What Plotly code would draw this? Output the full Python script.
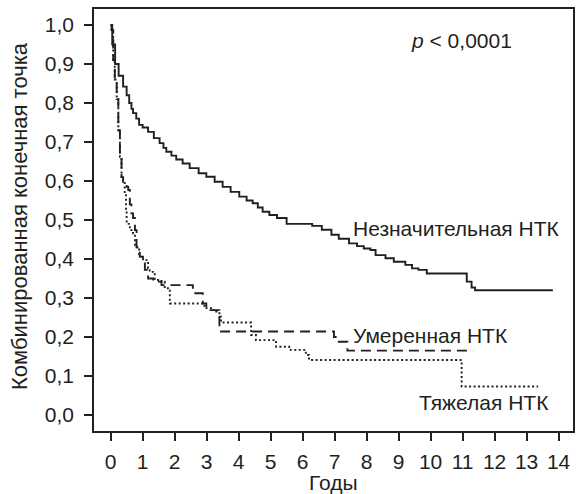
import plotly.graph_objects as go

# ---- data ----
mild_x = [0, 0.05, 0.14, 0.25, 0.39, 0.5, 0.58, 0.65, 0.70, 0.80, 0.89, 1.0, 1.17, 1.35, 1.53,
          1.65, 1.74, 1.9, 2.05, 2.25, 2.47, 2.75, 2.99, 3.25, 3.5, 3.75, 4.02, 4.25, 4.44,
          4.6, 4.75, 4.96, 5.2, 5.5, 6.3, 6.6, 6.9, 7.13, 7.45, 7.7, 7.91, 8.12, 8.28, 8.59,
          8.85, 9.21, 9.42, 9.62, 9.88, 11.13, 11.28, 11.39, 13.82]
mild_y = [1.0, 0.95, 0.90, 0.87, 0.842, 0.82, 0.80, 0.785, 0.774, 0.76, 0.744, 0.737, 0.726,
          0.71, 0.697, 0.685, 0.675, 0.665, 0.655, 0.645, 0.633, 0.62, 0.611, 0.598, 0.585,
          0.572, 0.56, 0.55, 0.543, 0.532, 0.521, 0.513, 0.505, 0.49, 0.485, 0.475, 0.462,
          0.452, 0.44, 0.433, 0.427, 0.423, 0.41, 0.402, 0.393, 0.385, 0.376, 0.372, 0.363,
          0.342, 0.327, 0.32, 0.32]

mod_x = [0, 0.03, 0.08, 0.13, 0.19, 0.24, 0.29, 0.34, 0.39, 0.5, 0.55, 0.6, 0.65, 0.7, 0.76,
         0.81, 0.91, 1.01, 1.07, 1.17, 1.33, 1.59, 2.57, 2.88, 2.99, 3.40, 6.98, 7.13, 7.40, 11.33]
mod_y = [1.0, 0.987, 0.91, 0.86, 0.81, 0.73, 0.662, 0.61, 0.598, 0.585, 0.577, 0.54, 0.517,
         0.505, 0.474, 0.43, 0.406, 0.389, 0.372, 0.35, 0.342, 0.333, 0.312, 0.286, 0.269,
         0.214, 0.20, 0.188, 0.165, 0.165]

sev_x = [0, 0.03, 0.08, 0.13, 0.19, 0.24, 0.29, 0.34, 0.39, 0.44, 0.48, 0.5, 0.6, 0.7, 0.76,
         0.89, 1.01, 1.17, 1.22, 1.38, 1.59, 1.69, 1.85, 2.93, 3.19, 3.30, 3.40, 3.45, 4.39,
         4.54, 5.17, 5.58, 6.10, 6.20, 10.97, 13.36]
sev_y = [1.0, 0.987, 0.91, 0.86, 0.81, 0.73, 0.662, 0.61, 0.598, 0.568, 0.526, 0.49, 0.474,
         0.466, 0.43, 0.406, 0.397, 0.376, 0.367, 0.346, 0.342, 0.325, 0.286, 0.274, 0.269,
         0.265, 0.252, 0.237, 0.205, 0.192, 0.175, 0.167, 0.154, 0.141, 0.073, 0.073]

x_ticks = list(range(0, 15))
y_ticks = [round(i / 10, 1) for i in range(0, 11)]
y_tick_text = [f"{v:.1f}".replace(".", ",") for v in y_ticks]

labels = [
    ("Незначительная НТК", 7.5, 0.479),
    ("Умеренная НТК", 7.5, 0.205),
    ("Тяжелая НТК", 9.56, 0.031),
]
p_text = ("<i>p</i> < 0,0001", 10.96, 0.96)
x_title = "Годы"
y_title = "Комбинированная конечная точка"

INK = "#231f20"
FONT = "Liberation Sans, Arial, sans-serif"
FS = 21

fig = go.Figure()
fig.add_trace(go.Scatter(x=mild_x, y=mild_y, mode="lines", line_shape="hv",
                         line=dict(color=INK, width=1.9), showlegend=False))
fig.add_trace(go.Scatter(x=mod_x, y=mod_y, mode="lines", line_shape="hv",
                         line=dict(color=INK, width=1.9, dash="10px,6px"), showlegend=False))
fig.add_trace(go.Scatter(x=sev_x, y=sev_y, mode="lines", line_shape="hv",
                         line=dict(color=INK, width=1.9, dash="2px,2.5px"), showlegend=False))

for txt, x, y in labels:
    fig.add_annotation(x=x, y=y, text=txt, showarrow=False, xanchor="left", yanchor="middle",
                       font=dict(family=FONT, size=FS, color=INK))
fig.add_annotation(x=p_text[1], y=p_text[2], text=p_text[0], showarrow=False,
                   xanchor="center", yanchor="middle", font=dict(family=FONT, size=FS, color=INK))
fig.add_annotation(xref="paper", yref="paper", x=0.5, y=0, yanchor="middle", yshift=-51,
                   text=x_title, showarrow=False, font=dict(family=FONT, size=FS, color=INK))
fig.add_annotation(xref="paper", yref="paper", x=0, y=0.5, xanchor="center", xshift=-75,
                   yshift=4, textangle=-90, text=y_title, showarrow=False,
                   font=dict(family=FONT, size=22, color=INK))

axis_common = dict(showgrid=False, zeroline=False, showline=True, linecolor=INK, linewidth=1.5,
                   mirror=True, ticks="outside", ticklen=8, tickwidth=1.5, tickcolor=INK,
                   tickfont=dict(family=FONT, size=FS, color=INK))
fig.update_xaxes(range=[-0.52, 14.45], tickmode="array", tickvals=x_ticks,
                 ticktext=[str(v) for v in x_ticks], ticklabelstandoff=3, **axis_common)
fig.update_yaxes(range=[-0.041, 1.041], tickmode="array", tickvals=y_ticks,
                 ticktext=y_tick_text, ticklabelstandoff=6, **axis_common)

fig.update_layout(width=577, height=494, margin=dict(l=94, r=2, t=9, b=63),
                  plot_bgcolor="white", paper_bgcolor="white",
                  font=dict(family=FONT, size=FS, color=INK))
fig.write_html("out.html")
